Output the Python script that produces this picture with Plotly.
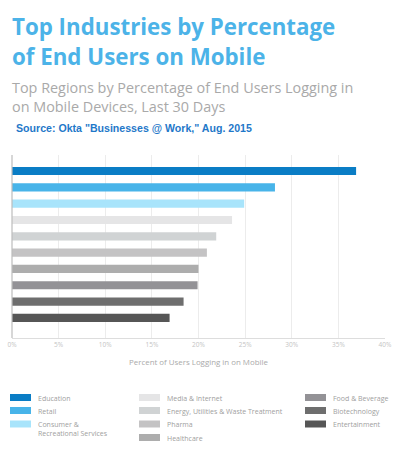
import plotly.graph_objects as go

industries = [
    "Education",
    "Retail",
    "Consumer & Recreational Services",
    "Media & Internet",
    "Energy, Utilities & Waste Treatment",
    "Pharma",
    "Healthcare",
    "Food & Beverage",
    "Biotechnology",
    "Entertainment",
]
pct_mobile = [36.9, 28.2, 24.9, 23.6, 21.9, 20.9, 20.0, 19.9, 18.4, 16.9]
bar_colors = [
    "#0a7dc5", "#48b4e9", "#a8e4fb", "#e5e5e6", "#d0d3d4",
    "#c4c3c4", "#adadad", "#939296", "#6e6e6e", "#565656",
]
legend_labels = [
    "Education", "Retail", "Consumer &<br>Recreational Services",
    "Media & Internet", "Energy, Utilities & Waste Treatment", "Pharma", "Healthcare",
    "Food & Beverage", "Biotechnology", "Entertainment",
]
x_ticks = [0, 5, 10, 15, 20, 25, 30, 35, 40]

W, H = 404, 455
L, R, T, B = 12, 19, 155, 117
pw, ph = W - L - R, H - T - B


def px_x(p):
    return (p - L) / pw


def px_y(p):
    return (H - B - p) / ph


fig = go.Figure(go.Bar(
    x=pct_mobile,
    y=industries,
    orientation="h",
    marker=dict(color=bar_colors, line=dict(width=0)),
    width=0.5,
    hoverinfo="x+y",
))

fig.update_layout(
    width=W,
    height=H,
    margin=dict(l=L, r=R, t=T, b=B),
    paper_bgcolor="white",
    plot_bgcolor="white",
    showlegend=False,
    font=dict(family="Open Sans, sans-serif", color="#999999"),
    xaxis=dict(
        range=[0, 40],
        tickvals=x_ticks,
        ticktext=[f"{v}%" for v in x_ticks],
        automargin=False,
        showgrid=True,
        gridcolor="#ececec",
        gridwidth=1,
        zeroline=False,
        showline=True,
        linecolor="#dddddd",
        linewidth=1,
        tickfont=dict(size=6.5, color="#c4c4c4"),
        ticklen=0,
        title=dict(
            text="Percent of Users Logging in on Mobile",
            font=dict(size=7.9, color="#aaaaaa"),
            standoff=11,
        ),
    ),
    yaxis=dict(
        type="category",
        categoryorder="array",
        categoryarray=industries,
        range=[10.23, -0.98],
        automargin=False,
        showticklabels=False,
        showgrid=False,
        zeroline=False,
        showline=False,
    ),
)

# left axis line
fig.add_shape(type="line", xref="paper", yref="paper", x0=0, x1=0, y0=0, y1=1,
              line=dict(color="#bdbdbd", width=1.2))

# titles
title_font = dict(family="Open Sans, sans-serif", size=22.3, color="#4cb3e8")
sub_font = dict(family="Open Sans, sans-serif", size=14.4, color="#a9a9a9")
for text, py, font in [
    ("<b>Top Industries by Percentage</b>", 26, title_font),
    ("<b>of End Users on Mobile</b>", 56, title_font),
    ("Top Regions by Percentage of End Users Logging in", 87, sub_font),
    ("on Mobile Devices, Last 30 Days", 107, sub_font),
]:
    fig.add_annotation(text=text, xref="paper", yref="paper",
                       x=px_x(10), y=px_y(py), xanchor="left", yanchor="middle",
                       showarrow=False, font=font)
fig.add_annotation(text='<b>Source: Okta "Businesses @ Work," Aug. 2015</b>', xref="paper", yref="paper",
                   x=px_x(14), y=px_y(128), xanchor="left", yanchor="middle", showarrow=False,
                   font=dict(family="Liberation Sans, Arial, sans-serif", size=10.6, color="#1f78c9"))

# legend in three columns
col_x = [10, 139, 305]
row_y = [397.5, 410.5, 424, 437.5]
slots = [(0, 0), (0, 1), (0, 2), (1, 0), (1, 1), (1, 2), (1, 3), (2, 0), (2, 1), (2, 2)]
for label, color, (c, r) in zip(legend_labels, bar_colors, slots):
    x0 = col_x[c]
    y0 = row_y[r]
    fig.add_shape(type="rect", xref="paper", yref="paper",
                  x0=px_x(x0), x1=px_x(x0 + 21), y0=px_y(y0 - 3.5), y1=px_y(y0 + 3.5),
                  fillcolor=color, line=dict(width=0))
    fig.add_annotation(text=label, xref="paper", yref="paper",
                       x=px_x(x0 + 26), y=px_y(y0 - 6), xanchor="left", yanchor="top",
                       showarrow=False, align="left",
                       font=dict(size=7.0, color="#a0a0a0"))

fig.write_html("out.html", config={"displayModeBar": False},
               post_script="document.body.style.margin='0';")
